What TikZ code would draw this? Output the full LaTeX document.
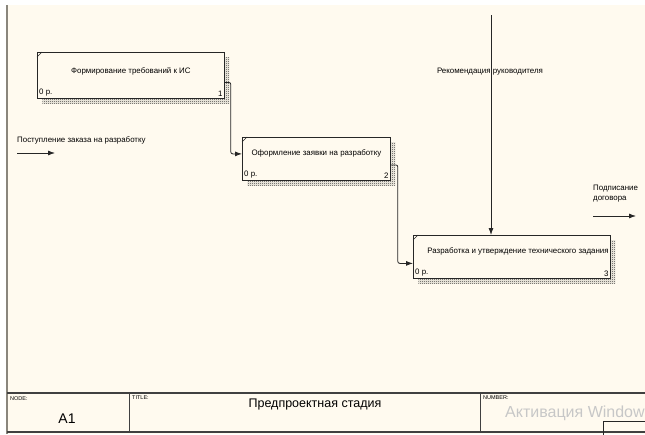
\documentclass[tikz,border=0pt]{standalone}
\usepackage{fontspec}
\setmainfont{Liberation Sans}
\usetikzlibrary{positioning,arrows.meta,patterns,shadows}

\definecolor{paper}{RGB}{255,250,239}
\definecolor{rim}{RGB}{138,134,124}

% fine checker used for the box shadows
\pgfdeclarepatternformonly{checker}{\pgfqpoint{0pt}{0pt}}{\pgfqpoint{2pt}{2pt}}{\pgfqpoint{2pt}{2pt}}{%
  \pgfpathrectangle{\pgfqpoint{0pt}{0pt}}{\pgfqpoint{1pt}{1pt}}%
  \pgfpathrectangle{\pgfqpoint{1pt}{1pt}}{\pgfqpoint{1pt}{1pt}}%
  \pgfusepath{fill}}

\begin{document}
\begin{tikzpicture}[x=1pt,y=-1pt,
    act/.style={draw=black!85,fill=paper,line width=0.8pt,inner sep=0pt,anchor=north west,
      general shadow={shadow xshift=5pt,shadow yshift=-5pt,pattern=checker,pattern color=black!80}},
    txt/.style={inner sep=0pt,font=\fontsize{7.9}{9.5}\selectfont},
    tiny/.style={inner sep=0pt,anchor=north west,font=\fontsize{5.5}{6}\selectfont},
    flow/.style={draw=black!85,line width=0.8pt,rounded corners=2pt,-{Latex[length=7pt,width=5pt]}}]
  \useasboundingbox (0,0) rectangle (645,434);
  % sheet
  \fill[white] (0,0) rectangle (645,434);
  \fill[paper] (7,5) rectangle (645,434);
  \draw[rim,line width=2pt] (7,5) -- (7,434);

  % activities
  \node[act,minimum width=187pt,minimum height=46pt] (b1) at (37,52) {};
  \node[act,minimum width=148pt,minimum height=43pt] (b2) at (242,137) {};
  \node[act,minimum width=197pt,minimum height=43pt] (b3) at (413,235) {};
  \foreach \b/\n in {b1/1,b2/2,b3/3} {
    \draw[black!85,line width=0.5pt] ([yshift=-5pt]\b.north west) -- ([xshift=5pt]\b.north west);
    \node[txt,anchor=south west] at ([shift={(2pt,2pt)}]\b.south west) {0 р.};
    \node[txt,anchor=south east] at ([shift={(-2pt,2pt)}]\b.south east) {\n};
  }
  \node[txt] (t1) at ([yshift=4pt]b1.center) {Формирование требований к ИС};
  \node[txt] (t2) at ([yshift=5.5pt]b2.center) {Оформление заявки на разработку};
  \node[txt,anchor=east] (t3) at ([shift={(-2pt,5.5pt)}]b3.east) {Разработка и утверждение технического задания};

  % arrows between activities
  \draw[flow] ([yshift=-7pt]b1.east) -- ++(6,0) |- ([yshift=5pt]b2.west);
  \draw[flow] ([yshift=-6pt]b2.east) -- ++(7,0) |- ([yshift=-6.5pt]b3.west);

  % input, control, output
  \coordinate (inA) at (17,153);
  \coordinate (inB) at (55,153);
  \draw[flow] (inA) -- (inB);
  \node[txt,anchor=west] (lin) at (17,140) {Поступление заказа на разработку};

  \coordinate (ctl) at (491,15);
  \draw[flow] (ctl) -- (b3.north -| ctl);
  \node[txt] (lctl) at (490,72) {Рекомендация руководителя};

  \coordinate (outA) at (593,216);
  \coordinate (outB) at (636,216);
  \draw[flow] (outA) -- (outB);
  \node[txt,anchor=north west,align=left] (lout) at (593,185) {Подписание\\договора};

  % title block
  \draw[black!75,line width=1.2pt] (7,393) -- (645,393);
  \draw[black!75,line width=1.2pt] (7,432) -- (645,432);
  \draw[black!75,line width=1pt] (129,393) -- (129,432);
  \draw[black!75,line width=1pt] (480,393) -- (480,432);
  \node[tiny] (nd) at (10,396) {NODE:};
  \node[tiny] (tt) at (132,396) {TITLE:};
  \node[tiny] (nm) at (483,396) {NUMBER:};
  \node[inner sep=0pt,font=\fontsize{14}{16}\selectfont] (nid) at (67,419) {A1};
  \node[inner sep=0pt,font=\fontsize{12.5}{14}\selectfont] (ttl) at (315,404) {Предпроектная стадия};
  \begin{scope}
    \clip (480,393) rectangle (645,434);
    \node[inner sep=0pt,anchor=west,text=black!22,font=\fontsize{16}{18}\selectfont] (wm) at (505,413) {Активация Windows};
    \draw[black!85,line width=0.8pt] (603,421) rectangle (660,440);
  \end{scope}
\end{tikzpicture}
\end{document}
